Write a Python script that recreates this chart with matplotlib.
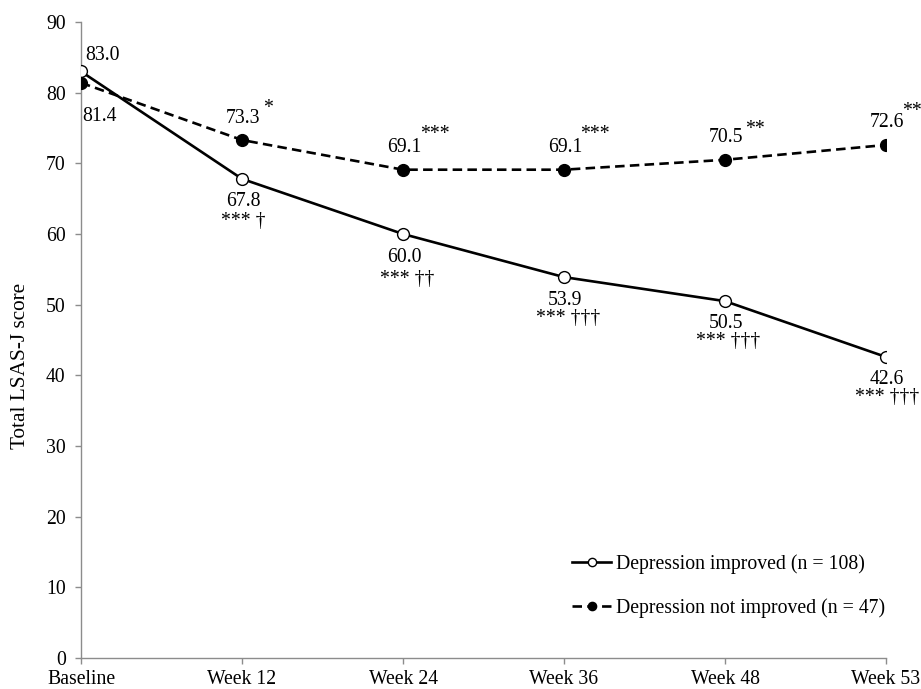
import matplotlib
matplotlib.use("Agg")
import matplotlib.pyplot as plt

plt.rcParams['font.family'] = ['Liberation Serif', 'DejaVu Serif']
plt.rcParams['font.size'] = 14.2

weeks = ['Baseline', 'Week 12', 'Week 24', 'Week 36', 'Week 48', 'Week 53']
improved = [83.0, 67.8, 60.0, 53.9, 50.5, 42.6]
not_improved = [81.4, 73.3, 69.1, 69.1, 70.5, 72.6]

# significance marks
improved_sig = ['', '*** \u2020', '*** \u2020\u2020', '*** \u2020\u2020\u2020',
                '*** \u2020\u2020\u2020', '*** \u2020\u2020\u2020']
not_improved_sig = ['', '*', '***', '***', '**', '**']

px = 0.72  # points per pixel at dpi 100

fig = plt.figure(figsize=(9.21, 6.89), dpi=100)
ax = fig.add_axes([81 / 921, 1 - 658 / 689, (886 - 81) / 921, (658 - 22) / 689])

x = list(range(len(weeks)))
ax.plot(x, improved, color='black', lw=1.9, marker='o', ms=8.5,
        mfc='white', mec='black', mew=1.0, label='Depression improved (n = 108)',
        zorder=3)
ax.plot(x, not_improved, color='black', lw=1.9, marker='o', ms=8.5,
        mfc='black', mec='black', dashes=(3.6, 2.0),
        label='Depression not improved (n = 47)', zorder=3)

ax.set_xlim(0, 5)
ax.set_ylim(0, 90)
ax.set_yticks(range(0, 91, 10))
ax.set_xticks(x)
ax.set_xticklabels(weeks)
ax.set_ylabel('Total LSAS-J score', fontsize=15.3)
ax.yaxis.set_label_coords(-0.063, 0.46)

for s in ['top', 'right']:
    ax.spines[s].set_visible(False)
for s in ['left', 'bottom']:
    ax.spines[s].set_color('#8c8c8c')
    ax.spines[s].set_linewidth(1.0)
    ax.spines[s].set_clip_on(False)
ax.tick_params(direction='out', length=4, width=1.0, color='#8c8c8c',
               labelcolor='black')
ax.tick_params(axis='y', pad=7)
ax.tick_params(axis='x', pad=5)


def note(txt, xi, yv, dx, dy):
    ax.annotate(txt, (xi, yv), xytext=(dx * px, dy * px),
                textcoords='offset points', ha='center', va='center',
                annotation_clip=False, clip_on=False)


# value labels for improved series
note('%.1f' % improved[0], 0, improved[0], 21, 16)
lab_dy = [0, -23, -24, -23, -22, -23]
for i in range(1, 6):
    note('%.1f' % improved[i], i, improved[i], 1, lab_dy[i])
sig_dx = [0, 1, 4, 4, 3, 1]
sig_dy = [0, -43, -46, -41, -40, -41]
for i in range(1, 6):
    note(improved_sig[i], i, improved[i], sig_dx[i], sig_dy[i])

# value labels for not improved series
note('%.1f' % not_improved[0], 0, not_improved[0], 18, -34)
for i in range(1, 6):
    note('%.1f' % not_improved[i], i, not_improved[i], 1, 22)
star_dx = [0, 26, 32, 31, 30, 26]
star_dy = [0, 32, 35, 35, 30, 33]
for i in range(1, 6):
    note(not_improved_sig[i], i, not_improved[i], star_dx[i], star_dy[i])

ax.legend(loc='center left', bbox_to_anchor=(562 / 921, 1 - 586 / 689),
          bbox_transform=fig.transFigure, frameon=False, borderpad=0,
          handlelength=2.0, handletextpad=0.25, labelspacing=1.25,
          numpoints=1, markerscale=0.7)

fig.savefig('out.png', dpi=100)
